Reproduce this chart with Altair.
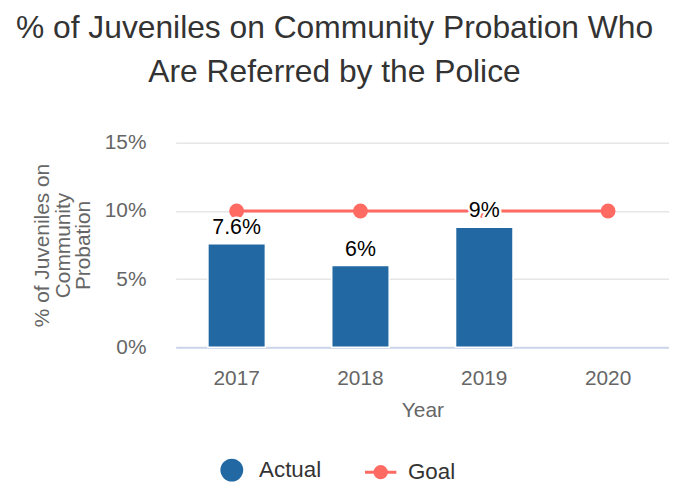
import altair as alt
import pandas as pd

years = ["2017", "2018", "2019", "2020"]
actual = [7.6, 6.0, 8.8, None]
actual_labels = ["7.6%", "6%", "9%", None]
goal = [10, 10, 10, 10]
series_names = ["Actual", "Goal"]
y_ticks = [0, 5, 10, 15]

BLUE = "#2269a4"
RED = "#ff6b63"
FONT = "Liberation Sans"
GOAL_PATH = "M-1.58,0L1.58,0M-0.57,0A0.57,0.57,0,1,0,0.57,0A0.57,0.57,0,1,0,-0.57,0Z"

df = pd.DataFrame({
    "year": years,
    "actual": actual,
    "label": actual_labels,
    "goal": goal,
    "series": ["Goal"] * len(years),
})

x = alt.X(
    "year:N", title="Year", sort=years,
    scale=alt.Scale(paddingInner=0.536, paddingOuter=0.26),
    axis=alt.Axis(labelAngle=0, labelFontSize=21, labelColor="#666666", labelFont=FONT,
                  titleFontSize=21, titleColor="#666666", titleFont=FONT, titleFontWeight="normal",
                  domainColor="#ccd6eb", domainWidth=2, ticks=False, labelPadding=21,
                  titlePadding=11, grid=False),
)

yscale = alt.Scale(domain=[0, 15])
y_axis = alt.Axis(values=y_ticks, labelExpr="datum.value + '%'", labelFontSize=21,
                  labelColor="#666666", labelFont=FONT, labelPadding=30, ticks=False,
                  domain=False, gridColor="#e6e6e6", gridWidth=1.5,
                  titleFontSize=21, titleColor="#666666", titleFont=FONT,
                  titleFontWeight="normal", titleAngle=-90, titleLineHeight=20.5,
                  titleX=-134, titleY=103, titleAlign="center", titleBaseline="middle")
Y_TITLE = ["% of Juveniles on", "Community", "Probation"]


def yenc(field):
    return alt.Y(f"{field}:Q", scale=yscale, title=Y_TITLE, axis=y_axis)


bars = alt.Chart(df).transform_filter("isValid(datum.actual)").mark_bar(
    color=BLUE, stroke="white", strokeWidth=1.5
).encode(x=x, y=yenc("actual"))

line = alt.Chart(df).mark_line(color=RED, strokeWidth=3).encode(x=x, y=yenc("goal"))

pts = alt.Chart(df).mark_circle(color=RED, size=225, opacity=1).encode(x=x, y=yenc("goal"))

leg = alt.Legend(orient="none", legendX=45, legendY=318, direction="horizontal", title=None,
                 symbolSize=400, symbolStrokeWidth=3, symbolOpacity=1, labelFontSize=22.5,
                 labelColor="#333333", labelFont=FONT, labelOffset=16, columnPadding=37,
                 padding=0)

legend_layer = alt.Chart(df).mark_point(filled=True, opacity=0).encode(
    x=x,
    y=yenc("goal"),
    fill=alt.Fill("series:N", scale=alt.Scale(domain=series_names, range=[BLUE, RED]), legend=leg),
    stroke=alt.Stroke("series:N", scale=alt.Scale(domain=series_names, range=[BLUE, RED]), legend=leg),
    shape=alt.Shape("series:N", scale=alt.Scale(domain=series_names, range=["circle", GOAL_PATH]), legend=leg),
)

label_base = alt.Chart(df).transform_filter("isValid(datum.actual)")
outline = label_base.mark_text(fontSize=21.5, font=FONT, dy=-10, baseline="alphabetic",
                               fill="white", stroke="white", strokeWidth=5, strokeJoin="round").encode(
    x=x, y=yenc("actual"), text="label:N"
)
labels = label_base.mark_text(fontSize=21.5, font=FONT, dy=-10, baseline="alphabetic",
                              color="#000000").encode(
    x=x, y=yenc("actual"), text="label:N"
)

chart = alt.layer(bars, line, pts, legend_layer, outline, labels).properties(
    width=497, height=206,
    title=alt.TitleParams(["% of Juveniles on Community Probation Who", "Are Referred by the Police"],
                          fontSize=32, font=FONT, fontWeight="normal", color="#333333",
                          lineHeight=45, anchor="middle", dx=-88.5, offset=43),
    autosize=alt.AutoSizeParams(type="none"),
    padding={"left": 169, "top": 134, "right": 0, "bottom": 142},
).configure_view(stroke=None)

chart.save("out.html", embed_options={"renderer": "svg", "actions": False})
